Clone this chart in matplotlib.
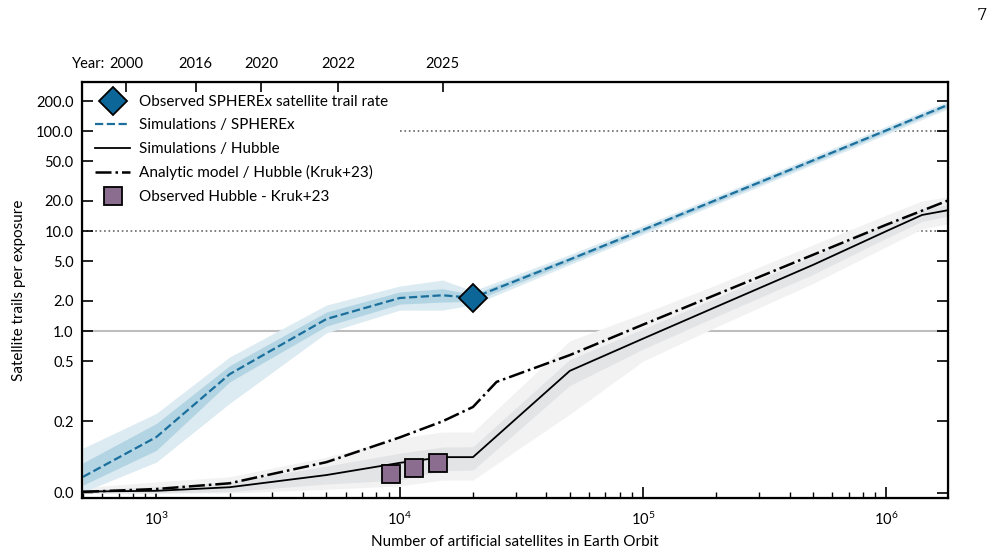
import numpy as np
import matplotlib
matplotlib.use("Agg")
import matplotlib.pyplot as plt
from matplotlib.lines import Line2D
from matplotlib.ticker import FixedLocator, NullLocator, FormatStrFormatter

plt.rcParams['font.family'] = ['Lato', 'DejaVu Sans']
plt.rcParams['mathtext.fontset'] = 'custom'
plt.rcParams['mathtext.rm'] = 'Lato'

# --- SPHEREx simulations
n_sph = [500, 1000, 2000, 5000, 10000, 15000, 20000, 50000, 100000, 200000, 500000, 1000000, 2000000]
sph_mid = [0.045, 0.156, 0.37, 1.32, 2.14, 2.28, 2.15, 5.2, 10.3, 20.5, 51, 102, 205]
sph_in_lo = [0.022, 0.119, 0.31, 1.12, 1.86, 1.95, 1.98, 4.9, 9.8, 19.5, 48.7, 97.5, 196]
sph_in_hi = [0.084, 0.194, 0.45, 1.55, 2.46, 2.65, 2.33, 5.5, 10.8, 21.5, 53.4, 106.5, 214]
sph_out_lo = [0.003, 0.086, 0.25, 0.96, 1.62, 1.62, 1.83, 4.63, 9.3, 18.6, 46.5, 93, 187]
sph_out_hi = [0.125, 0.222, 0.55, 1.82, 2.82, 3.24, 2.52, 5.83, 11.4, 22.5, 56, 112, 224]

# --- observed SPHEREx trail rate
n_sph_obs = [20000]
sph_obs = [2.15]

# --- Hubble simulations
n_hst = [500, 1000, 2000, 5000, 10000, 15000, 20000, 50000, 100000, 200000, 500000, 1000000, 1400000, 2000000]
hst_mid = [0.004, 0.006, 0.016, 0.05, 0.084, 0.10, 0.10, 0.40, 0.84, 1.75, 4.6, 10.0, 14.5, 17.0]
hst_in_lo = [0.0, 0.0, 0.004, 0.025, 0.036, 0.062, 0.064, 0.30, 0.66, 1.4, 3.7, 8.5, 12.5, 15.0]
hst_in_hi = [0.009, 0.0175, 0.03, 0.075, 0.111, 0.128, 0.129, 0.52, 1.05, 2.15, 5.6, 11.8, 16.8, 19.0]
hst_out_lo = [0.0, 0.0, 0.0, 0.01, 0.02, 0.036, 0.036, 0.22, 0.5, 1.1, 3.0, 7.0, 10.5, 12.5]
hst_out_hi = [0.015, 0.031, 0.045, 0.10, 0.153, 0.17, 0.17, 0.80, 1.5, 2.9, 7.3, 14.5, 20.0, 23.0]

# --- analytic model (Kruk+23)
n_ana = [500, 1000, 2000, 5000, 10000, 15000, 20000, 25000, 50000, 100000, 1000000, 2000000]
ana = [0.003, 0.011, 0.027, 0.086, 0.155, 0.20, 0.24, 0.31, 0.575, 1.16, 11.6, 22.5]

# --- observed Hubble (Kruk+23)
n_hst_obs = [9250, 11400, 14300]
hst_obs = [0.053, 0.069, 0.083]

# --- years on top axis
year_n = [750, 1450, 2700, 5600, 15000]
year_lab = ['2000', '2016', '2020', '2022', '2025']

yticks = [0.0, 0.2, 0.5, 1.0, 2.0, 5.0, 10.0, 20.0, 50.0, 100.0, 200.0]

blue = '#1a6f9c'
blue_fill = '#0c6697'
purple = '#8a6d8f'

fig = plt.figure(figsize=(9.95, 5.53), dpi=100)
ax = fig.add_axes([0.0824, 0.0995, 0.8704, 0.7522])

ax.set_xscale('log')
ax.set_yscale('symlog', linthresh=0.31, linscale=1.0)

# reference lines
ax.axhline(1.0, color='#bdbdbd', lw=1.5, zorder=1)
ax.axhline(10.0, color='#666666', lw=1.2, ls=':', zorder=1)
ax.plot([10000, 2e6], [100, 100], color='#666666', lw=1.2, ls=':', zorder=1)

# bands
ax.fill_between(n_hst, hst_out_lo, hst_out_hi, color='#f2f2f3', lw=0, zorder=2)
ax.fill_between(n_hst, hst_in_lo, hst_in_hi, color='#e3e4e6', lw=0, zorder=2)
ax.fill_between(n_sph, sph_out_lo, sph_out_hi, color='#dcebf2', lw=0, zorder=2)
ax.fill_between(n_sph, sph_in_lo, sph_in_hi, color='#b3d4e3', lw=0, zorder=2)

ax.plot(n_sph, sph_mid, color=blue, lw=1.6, ls='--', zorder=4)
ax.plot(n_hst, hst_mid, color='black', lw=1.3, zorder=4)
ax.plot(n_ana, ana, color='black', lw=1.8, ls='-.', zorder=4)
ax.plot(n_hst_obs, hst_obs, ls='none', marker='s', ms=13.5, mfc=purple,
        mec='black', mew=1.3, zorder=5)
ax.plot(n_sph_obs, sph_obs, ls='none', marker='D', ms=14, mfc=blue_fill,
        mec='black', mew=1.3, zorder=6)

ax.set_xlim(495, 1.79e6)
ax.set_ylim(-0.014, 310)

ax.yaxis.set_major_locator(FixedLocator(yticks))
ax.yaxis.set_minor_locator(NullLocator())
ax.yaxis.set_major_formatter(FormatStrFormatter('%.1f'))

ax.tick_params(which='both', direction='in', top=False, right=True, labelsize=10.5, pad=6)
ax.tick_params(axis='x', which='both', pad=9)
ax.tick_params(which='major', length=8, width=1.2)
ax.tick_params(which='minor', length=4, width=1.0)
for s in ax.spines.values():
    s.set_linewidth(1.6)

ax.set_xlabel('Number of artificial satellites in Earth Orbit', fontsize=11, labelpad=5)
ax.set_ylabel('Satellite trails per exposure', fontsize=11, labelpad=7)

# top axis with years
ax2 = ax.twiny()
ax2.set_xscale('log')
ax2.set_xlim(ax.get_xlim())
ax2.xaxis.set_major_locator(FixedLocator(year_n))
ax2.xaxis.set_minor_locator(NullLocator())
ax2.set_xticklabels(year_lab)
ax2.tick_params(axis='x', direction='in', length=7, width=1.2, labelsize=10.5, pad=8)

handles = [
    Line2D([], [], ls='none', marker='D', ms=14, mfc=blue_fill, mec='black', mew=1.3),
    Line2D([], [], color=blue, lw=1.6, ls='--'),
    Line2D([], [], color='black', lw=1.3),
    Line2D([], [], color='black', lw=1.8, ls='-.'),
    Line2D([], [], ls='none', marker='s', ms=13.5, mfc=purple, mec='black', mew=1.3),
]
labels = ['Observed SPHEREx satellite trail rate', 'Simulations / SPHEREx',
          'Simulations / Hubble', 'Analytic model / Hubble (Kruk+23)',
          'Observed Hubble - Kruk+23']
ax.legend(handles, labels, loc='upper left', frameon=False, fontsize=11,
          handlelength=2.3, handletextpad=0.55, labelspacing=0.62,
          borderaxespad=0.55, borderpad=0.3)

fig.text(982 / 995, 1 - 15 / 553, '7', fontsize=12, family='DejaVu Serif',
         ha='center', va='center')

# "Year:" prefix next to the first top tick label
fig.canvas.draw()
bb = ax2.get_xticklabels()[0].get_window_extent()
fig.text((bb.x0 - 4) / 995, bb.y0 / 553, 'Year:', fontsize=10.5, ha='right', va='bottom')

fig.savefig('out.png', dpi=100)
